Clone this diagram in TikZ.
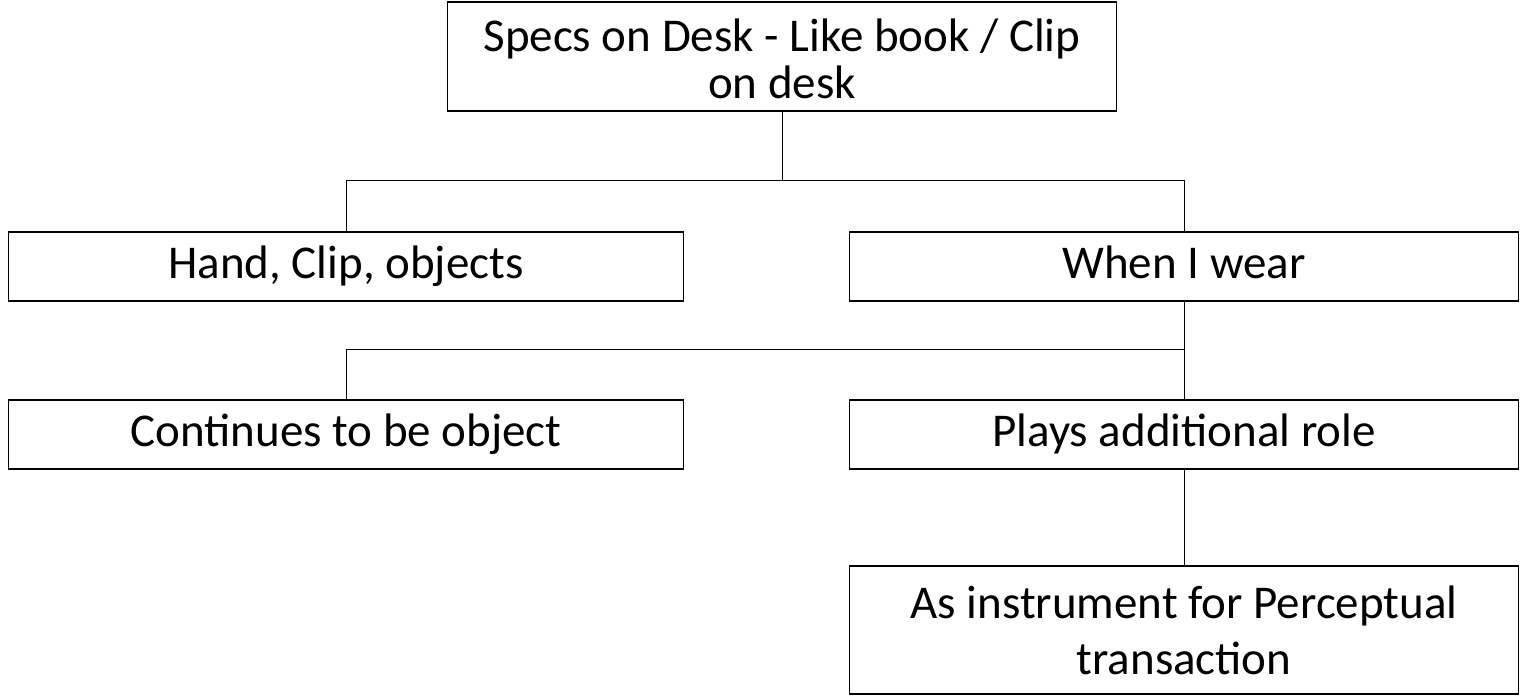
\documentclass[tikz,border=0pt]{standalone}
\usepackage{fontspec}
\setmainfont{Carlito}
\begin{document}
\begin{tikzpicture}[x=1pt,y=-1pt,
  box/.style={draw=black,line width=1.6pt,inner sep=0pt,align=center,font=\fontsize{47}{56}\selectfont},
  onebox/.style={box,minimum height=69pt,text height=32pt,text depth=8pt},
  link/.style={draw=black,line width=1pt}]
\useasboundingbox (0,0) rectangle (1520,696);
\node[box,minimum width=669pt,minimum height=109pt,font=\fontsize{47}{47}\selectfont] (top) at (782,56.5) {\rule{0pt}{38pt}Specs on Desk - Like book / Clip\\on desk};
\node[onebox,minimum width=675pt] (hand) at (346,266.5) {Hand, Clip, objects};
\node[onebox,minimum width=669pt] (wear) at (1184,266.5) {When I wear};
\node[onebox,minimum width=675pt] (cont) at (346,434.5) {Continues to be object};
\node[onebox,minimum width=669pt] (plays) at (1184,434.5) {Plays additional role};
\node[box,minimum width=669pt,minimum height=128pt] (instr) at (1184,630) {As instrument for Perceptual\\transaction};
\coordinate (j1) at (782,180);
\coordinate (j2) at (1184,349);
\draw[link] (top.south) -- (j1) -| (hand.north);
\draw[link] (j1) -| (wear.north);
\draw[link] (wear.south) -- (j2) -| (cont.north);
\draw[link] (j2) -- (plays.north);
\draw[link] (plays.south) -- (instr.north);
\end{tikzpicture}
\end{document}
